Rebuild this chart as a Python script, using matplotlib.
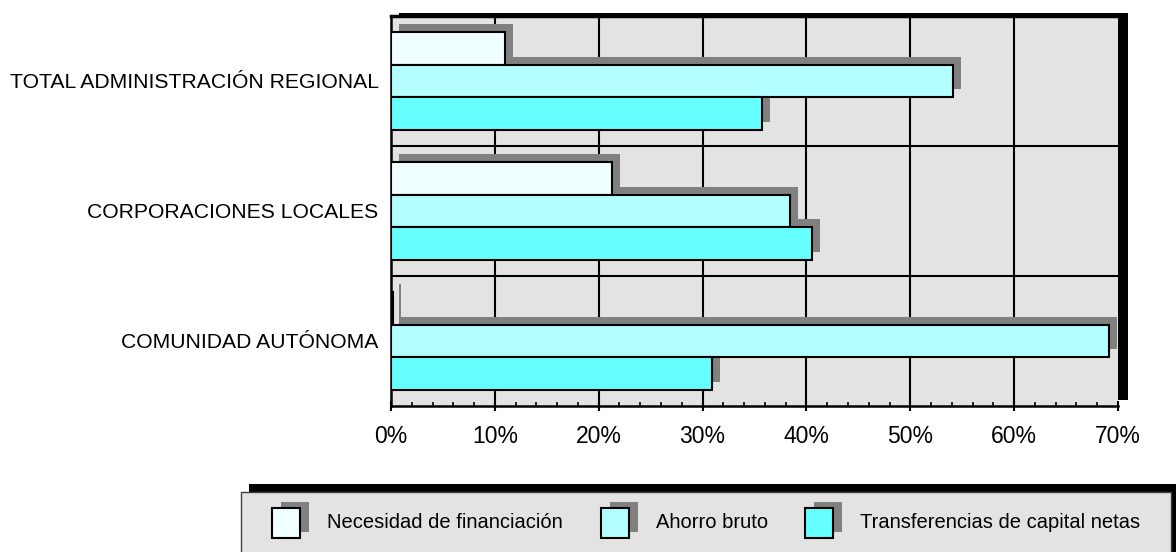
import matplotlib
matplotlib.use("Agg")
import matplotlib.pyplot as plt
import matplotlib.transforms as mtransforms
from matplotlib.patches import Rectangle
import numpy as np

plt.rcParams["font.family"] = ["Liberation Sans", "DejaVu Sans"]

# datos (%)
categories = ["TOTAL ADMINISTRACIÓN REGIONAL", "CORPORACIONES LOCALES", "COMUNIDAD AUTÓNOMA"]
series_names = ["Necesidad de financiación", "Ahorro bruto", "Transferencias de capital netas"]
necesidad = [11.0, 21.3, 0.15]
ahorro = [54.1, 38.4, 69.1]
transferencias = [35.7, 40.5, 30.9]
xticks = [0, 10, 20, 30, 40, 50, 60, 70]
xticklabels = ["0%", "10%", "20%", "30%", "40%", "50%", "60%", "70%"]

colors = ["#F0FFFF", "#B3FFFF", "#66FFFF"]
GREY_BG = "#E3E3E3"
SHADOW = "#808080"

W, H = 1176, 552
fig = plt.figure(figsize=(W / 100, H / 100), dpi=100)


def fx(px):
    return px / W


def fy(py):
    return 1 - py / H


# sombra negra del área de trazado (detrás de los ejes)
fig.patches.append(Rectangle((fx(399), fy(400)), fx(1128) - fx(399), fy(13) - fy(400),
                             transform=fig.transFigure, facecolor="black", edgecolor="none", zorder=-1))

ax = fig.add_axes([fx(391), fy(406), fx(1118) - fx(391), fy(16) - fy(406)])
ax.set_zorder(1)
ax.set_facecolor(GREY_BG)
ax.set_xlim(0, 70)
ax.set_ylim(0, 3)

n = len(categories)
centers = n - np.arange(n) - 0.5
bh = 0.25
offsets = [bh, 0, -bh]
values = [necesidad, ahorro, transferencias]

shadow_tr = ax.transData + mtransforms.ScaledTranslation(8 / 100, 8 / 100, fig.dpi_scale_trans)
for vals, off in zip(values, offsets):
    ax.barh(centers + off, vals, height=bh, color=SHADOW, edgecolor="none",
            transform=shadow_tr, zorder=2)
for vals, off, c in zip(values, offsets, colors):
    ax.barh(centers + off, vals, height=bh, color=c, edgecolor="black", linewidth=1.5, zorder=3)

for x in xticks[1:-1]:
    ax.axvline(x, color="black", lw=1.5, zorder=1)
for y in [1, 2]:
    ax.axhline(y, color="black", lw=1.5, zorder=1)

ax.set_xticks(xticks)
ax.set_xticklabels(xticklabels, fontsize=16.5)
ax.set_xticks(np.arange(0, 71, 2), minor=True)
ax.tick_params(axis="x", which="major", direction="inout", length=7, width=1.5, pad=10)
ax.tick_params(axis="x", which="minor", direction="in", length=3, width=1.2)
ax.set_yticks(centers)
ax.set_yticklabels(categories, fontsize=15.2)
ax.tick_params(axis="y", length=0, pad=9)

for s in ["left", "bottom"]:
    ax.spines[s].set_linewidth(1.8)
ax.spines["top"].set_linewidth(2.5)
ax.spines["right"].set_visible(False)

# leyenda
fig.patches.append(Rectangle((fx(249), fy(560)), fx(1176) - fx(249), fy(484) - fy(560),
                             transform=fig.transFigure, facecolor="black", edgecolor="none", zorder=0))
fig.patches.append(Rectangle((fx(241), fy(560)), fx(1171) - fx(241), fy(492) - fy(560),
                             transform=fig.transFigure, facecolor=GREY_BG, edgecolor="#404040",
                             linewidth=1, zorder=1))
for name, c, x0 in zip(series_names, colors, [272, 601, 805]):
    fig.patches.append(Rectangle((fx(x0 + 9), fy(532)), fx(28), fy(502) - fy(532),
                                 transform=fig.transFigure, facecolor=SHADOW, edgecolor="none", zorder=2))
    fig.patches.append(Rectangle((fx(x0), fy(538)), fx(28), fy(508) - fy(538),
                                 transform=fig.transFigure, facecolor=c, edgecolor="black",
                                 linewidth=1.5, zorder=3))
    fig.text(fx(x0 + 55), fy(523), name, fontsize=14.5, va="center", ha="left", zorder=4)

fig.savefig("out.png", dpi=100)
